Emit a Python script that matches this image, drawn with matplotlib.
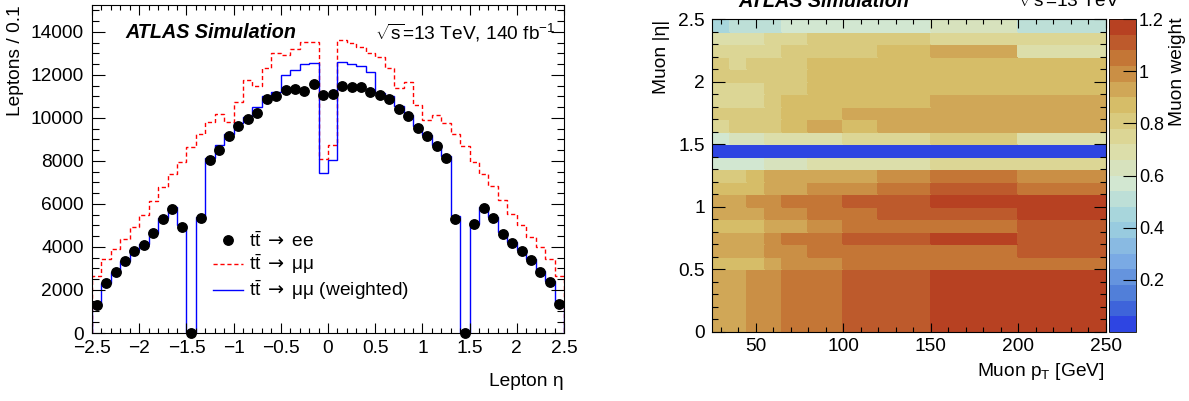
import matplotlib
matplotlib.use('Agg')
import matplotlib.pyplot as plt
import numpy as np
from matplotlib.colors import LinearSegmentedColormap, ListedColormap, BoundaryNorm
from matplotlib.ticker import MultipleLocator, FuncFormatter
from matplotlib.lines import Line2D

plt.rcParams['font.family'] = ['Liberation Sans', 'DejaVu Sans']
plt.rcParams['mathtext.fontset'] = 'custom'
plt.rcParams['mathtext.rm'] = 'Liberation Sans'
plt.rcParams['mathtext.it'] = 'Liberation Sans:italic'
plt.rcParams['mathtext.bf'] = 'Liberation Sans:bold'
plt.rcParams['mathtext.sf'] = 'DejaVu Sans'
plt.rcParams['axes.linewidth'] = 0.8

# left panel: lepton eta, 50 bins of 0.1
eta_edges = np.round(np.linspace(-2.5, 2.5, 51), 2)
ee_counts = [1280, 2340, 2850, 3350, 3800, 4110, 4650, 5280, 5750, 4910,
             0, 5350, 8060, 8510, 9150, 9620, 9950, 10220, 10880, 11030,
             11310, 11340, 11260, 11590, 11080, 11090, 11490, 11460, 11420, 11200,
             11050, 10890, 10430, 10080, 9540, 9140, 8680, 8140, 5310, 0,
             5050, 5800, 5350, 4620, 4190, 3830, 3390, 2850, 2350, 1340]
mumu_counts = [2650, 3420, 3890, 4390, 4950, 5490, 6120, 6770, 7390, 7950,
               8630, 9230, 9830, 10190, 9800, 10740, 11750, 11490, 12340, 13000,
               12920, 13220, 13510, 13550, 8110, 8740, 13620, 13460, 13310, 13000,
               12820, 12310, 11390, 11650, 10620, 9890, 10150, 9770, 9230, 8690,
               7950, 7390, 6820, 6200, 5540, 5030, 4460, 4000, 3460, 2650]
mumu_weighted = [1280, 2310, 2850, 3350, 3850, 4150, 4650, 5340, 5850, 5000,
                 0, 5390, 8150, 8720, 9230, 9770, 10050, 10510, 11000, 11200,
                 11990, 12250, 12510, 12540, 7460, 8050, 12590, 12510, 12420, 12150,
                 11150, 11000, 10570, 10150, 9620, 9190, 8720, 8230, 5460, 0,
                 5080, 5850, 5390, 4690, 4230, 3850, 3430, 2880, 2420, 1390]

# right panel: muon weight map (rows = |eta| bins, bottom to top)
pt_edges = [25, 35, 45, 55, 65, 80, 100, 120, 150, 200, 250]
abseta_edges = [0, 0.5, 0.6, 0.7, 0.8, 0.9, 1.0, 1.1, 1.2, 1.3, 1.4,
                1.5, 1.6, 1.7, 1.8, 1.9, 2.0, 2.1, 2.2, 2.3, 2.4, 2.5]
muon_weight = [
    [0.93, 0.93, 0.99, 0.99, 1.05, 1.05, 1.11, 1.11, 1.17, 1.17],
    [0.87, 0.87, 0.87, 0.93, 0.99, 0.99, 1.05, 1.05, 1.05, 1.05],
    [0.93, 0.93, 0.93, 0.99, 0.99, 1.05, 1.05, 1.05, 1.05, 1.11],
    [0.93, 0.93, 0.93, 0.99, 1.05, 1.05, 1.11, 1.11, 1.17, 1.11],
    [0.87, 0.87, 0.87, 0.93, 0.93, 0.99, 1.05, 1.05, 1.05, 1.11],
    [0.93, 0.93, 0.93, 0.99, 0.99, 1.05, 1.05, 1.11, 1.11, 1.17],
    [0.93, 0.93, 0.99, 0.99, 1.05, 1.05, 1.11, 1.11, 1.17, 1.17],
    [0.87, 0.87, 0.87, 0.93, 0.93, 0.99, 0.99, 1.05, 1.11, 1.05],
    [0.81, 0.81, 0.87, 0.93, 0.93, 0.93, 0.93, 0.99, 1.05, 0.99],
    [0.57, 0.57, 0.57, 0.63, 0.63, 0.69, 0.69, 0.69, 0.75, 0.75],
    [0.02, 0.02, 0.02, 0.02, 0.02, 0.02, 0.02, 0.02, 0.02, 0.02],
    [0.57, 0.63, 0.63, 0.69, 0.69, 0.69, 0.75, 0.75, 0.81, 0.69],
    [0.75, 0.81, 0.81, 0.81, 0.87, 0.93, 0.87, 0.93, 0.93, 0.93],
    [0.81, 0.81, 0.81, 0.81, 0.87, 0.87, 0.93, 0.93, 0.93, 0.93],
    [0.75, 0.75, 0.75, 0.81, 0.87, 0.87, 0.87, 0.87, 0.93, 0.93],
    [0.75, 0.75, 0.75, 0.81, 0.81, 0.87, 0.87, 0.87, 0.87, 0.87],
    [0.81, 0.81, 0.81, 0.81, 0.81, 0.87, 0.87, 0.87, 0.87, 0.87],
    [0.81, 0.75, 0.81, 0.81, 0.81, 0.87, 0.87, 0.87, 0.87, 0.87],
    [0.75, 0.75, 0.75, 0.75, 0.81, 0.81, 0.81, 0.87, 0.93, 0.69],
    [0.69, 0.69, 0.69, 0.75, 0.75, 0.81, 0.81, 0.81, 0.75, 0.75],
    [0.45, 0.51, 0.51, 0.51, 0.57, 0.57, 0.57, 0.57, 0.63, 0.51],
]
weight_ticks = [0.2, 0.4, 0.6, 0.8, 1.0, 1.2]

# ROOT kLightTemperature palette, 20 contour levels
stops = [0, 0.125, 0.25, 0.375, 0.5, 0.625, 0.75, 0.875, 1.0]
red = [31, 71, 123, 160, 210, 222, 214, 199, 183]
green = [40, 117, 171, 211, 231, 220, 190, 132, 65]
blue = [234, 214, 228, 222, 210, 160, 105, 60, 34]
grad = LinearSegmentedColormap.from_list(
    'lighttemp', [(s, (r / 255, g / 255, b / 255)) for s, r, g, b in zip(stops, red, green, blue)])
nlev = 20
cmap = ListedColormap([grad(int((k + 0.99) * 255 / nlev) / 254) for k in range(nlev)])
norm = BoundaryNorm(np.linspace(0, 1.2, nlev + 1), nlev)

W, H = 1189, 401
fig = plt.figure(figsize=(W / 100, H / 100), dpi=100)
FS = 13.8


def fx(px):
    return px / W


def fy(py):
    return 1 - py / H


def fmt(v, pos):
    s = '%g' % v
    return s.replace('-', '\u2212')


# ---- left panel ----
ax = fig.add_axes([fx(92), fy(333), fx(564) - fx(92), fy(5) - fy(333)])
centers = 0.5 * (eta_edges[:-1] + eta_edges[1:])
ax.stairs(mumu_counts, eta_edges, baseline=0, color='#ff0000', lw=1.0, ls=(0, (3, 2)))
ax.stairs(mumu_weighted, eta_edges, baseline=0, color='#0000ff', lw=1.0)
ax.plot(centers, ee_counts, 'o', color='black', ms=6.8, clip_on=False, zorder=4)
ax.set_xlim(-2.5, 2.5)
ax.set_ylim(0, 15250)
ax.xaxis.set_major_locator(MultipleLocator(0.5))
ax.xaxis.set_minor_locator(MultipleLocator(0.1))
ax.yaxis.set_major_locator(MultipleLocator(2000))
ax.yaxis.set_minor_locator(MultipleLocator(500))
ax.xaxis.set_major_formatter(FuncFormatter(fmt))
ax.yaxis.set_major_formatter(FuncFormatter(fmt))
ax.tick_params(which='both', direction='in', top=True, right=True, labelsize=FS, width=0.8)
ax.tick_params(axis='x', which='major', length=7.5, pad=5)
ax.tick_params(axis='x', which='minor', length=3.8)
ax.tick_params(axis='y', which='major', length=9.5, pad=6)
ax.tick_params(axis='y', which='minor', length=4.8)

handles = [
    Line2D([], [], marker='o', color='black', ls='none', ms=6.8),
    Line2D([], [], color='#ff0000', lw=1.0, ls=(0, (3, 2))),
    Line2D([], [], color='#0000ff', lw=1.0),
]
arrow = r'$\mathrm{t\bar{t}}\ \,\mathsf{\u2192}\ \,$'.replace('\\u2192', '\u2192')
labels = [arrow + 'ee', arrow + '\u03bc\u03bc', arrow + '\u03bc\u03bc (weighted)']
ax.legend(handles, labels, loc='upper left', bbox_to_anchor=(fx(213), fy(231)),
          bbox_transform=fig.transFigure, frameon=False, fontsize=FS,
          borderpad=0, borderaxespad=0, handlelength=1.55, handletextpad=0.35,
          labelspacing=0.12)

fig.text(fx(125), fy(33), 'ATLAS Simulation', fontsize=FS + 0.4, weight='bold',
         style='italic', ha='left', va='center')
fig.text(fx(375), fy(33), r'$\sqrt{\mathrm{s}}$=13 TeV, 140 fb$^{-1}$', fontsize=FS,
         ha='left', va='center')
fig.text(fx(16), fy(5), 'Leptons / 0.1', fontsize=FS, rotation=90, ha='center', va='top')
fig.text(fx(564), fy(381), 'Lepton \u03b7', fontsize=FS, ha='right', va='center')

# ---- right panel ----
ax2 = fig.add_axes([fx(712), fy(332), fx(1106) - fx(712), fy(19) - fy(332)])
mesh = ax2.pcolormesh(pt_edges, abseta_edges, np.array(muon_weight), cmap=cmap, norm=norm,
                      edgecolors='face', linewidth=0.2)
ax2.set_xlim(25, 250)
ax2.set_ylim(0, 2.5)
ax2.xaxis.set_major_locator(MultipleLocator(50))
ax2.xaxis.set_minor_locator(MultipleLocator(10))
ax2.yaxis.set_major_locator(MultipleLocator(0.5))
ax2.yaxis.set_minor_locator(MultipleLocator(0.1))
ax2.xaxis.set_major_formatter(FuncFormatter(fmt))
ax2.yaxis.set_major_formatter(FuncFormatter(fmt))
ax2.tick_params(which='both', direction='in', top=True, right=True, labelsize=FS, width=0.8)
ax2.tick_params(axis='x', which='major', length=6.5, pad=4)
ax2.tick_params(axis='x', which='minor', length=3.3)
ax2.tick_params(axis='y', which='major', length=9.0, pad=5)
ax2.tick_params(axis='y', which='minor', length=4.5)

cax = fig.add_axes([fx(1109), fy(332), fx(1136) - fx(1109), fy(19) - fy(332)])
cb = fig.colorbar(mesh, cax=cax, ticks=weight_ticks)
cb.ax.yaxis.set_major_formatter(FuncFormatter(fmt))
cb.ax.tick_params(direction='in', length=9.5, width=0.8, labelsize=FS - 0.8, pad=2)
cb.ax.minorticks_off()
cb.outline.set_linewidth(0.6)

fig.text(fx(738), fy(11), 'ATLAS Simulation', fontsize=FS + 0.4, weight='bold',
         style='italic', ha='left', va='bottom')
fig.text(fx(1018), fy(11), r'$\sqrt{\mathrm{s}}$=13 TeV', fontsize=FS, ha='left', va='bottom')
fig.text(fx(661), fy(20), 'Muon |\u03b7|', fontsize=FS, rotation=90, ha='center', va='top')
fig.text(fx(1105), fy(372), r'Muon p$_{\mathrm{T}}$ [GeV]', fontsize=FS, ha='right', va='center')
fig.text(fx(1177), fy(18), 'Muon weight', fontsize=FS, rotation=90, ha='center', va='top')

fig.savefig('out.png', dpi=100)
